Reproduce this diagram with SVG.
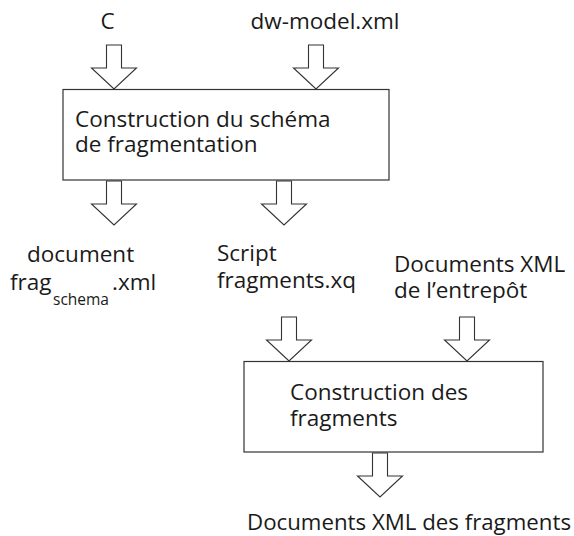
<svg xmlns="http://www.w3.org/2000/svg" xmlns:xlink="http://www.w3.org/1999/xlink" width="574" height="536" viewBox="0 0 574 536">
<style>
.box{fill:#fff;stroke:#333;stroke-width:1.2}
.arr{fill:#fff;stroke:#333;stroke-width:1.1;stroke-linejoin:miter}
text{font-family:"Open Sans","Liberation Sans",sans-serif;font-size:22.5px;fill:#1a1a1a}
.sub{font-size:15.5px}
</style>
<defs>
<path id="arrow" class="arr" d="M-7.5,0 L7.5,0 L7.5,23 L22.5,23 L0,44 L-22.5,23 L-7.5,23 Z"/>
</defs>
<rect width="574" height="536" fill="#fff"/>
<g id="connectors">
<use xlink:href="#arrow" href="#arrow" transform="translate(114,45)"/>
<use xlink:href="#arrow" href="#arrow" transform="translate(316,45)"/>
<use xlink:href="#arrow" href="#arrow" transform="translate(114,181)"/>
<use xlink:href="#arrow" href="#arrow" transform="translate(284,181)"/>
<use xlink:href="#arrow" href="#arrow" transform="translate(289,317)"/>
<use xlink:href="#arrow" href="#arrow" transform="translate(467,317)"/>
<use xlink:href="#arrow" href="#arrow" transform="translate(380,453)"/>
</g>
<g id="input-c"><text x="107.5" y="29" text-anchor="middle">C</text></g>
<g id="input-dwmodel"><text x="325" y="29" text-anchor="middle">dw-model.xml</text></g>
<g id="node-schema">
<rect class="box" x="63" y="89.5" width="326" height="90.5"/>
<text x="75" y="127">Construction du schéma</text>
<text x="75" y="152">de fragmentation</text>
</g>
<g id="output-fragschema">
<text x="27" y="262">document</text>
<text x="10" y="290">frag<tspan class="sub" x="53" dy="15">schema</tspan><tspan x="112" dy="-15">.xml</tspan></text>
</g>
<g id="output-script">
<text x="217" y="261">Script</text>
<text x="217" y="288">fragments.xq</text>
</g>
<g id="input-docs">
<text x="394" y="272">Documents XML</text>
<text x="394" y="298">de l’entrepôt</text>
</g>
<g id="node-fragments">
<rect class="box" x="244" y="361.5" width="299" height="90.5"/>
<text x="290" y="400">Construction des</text>
<text x="290" y="426">fragments</text>
</g>
<g id="output-fragments"><text x="247" y="530" textLength="324" lengthAdjust="spacingAndGlyphs">Documents XML des fragments</text></g>
</svg>
